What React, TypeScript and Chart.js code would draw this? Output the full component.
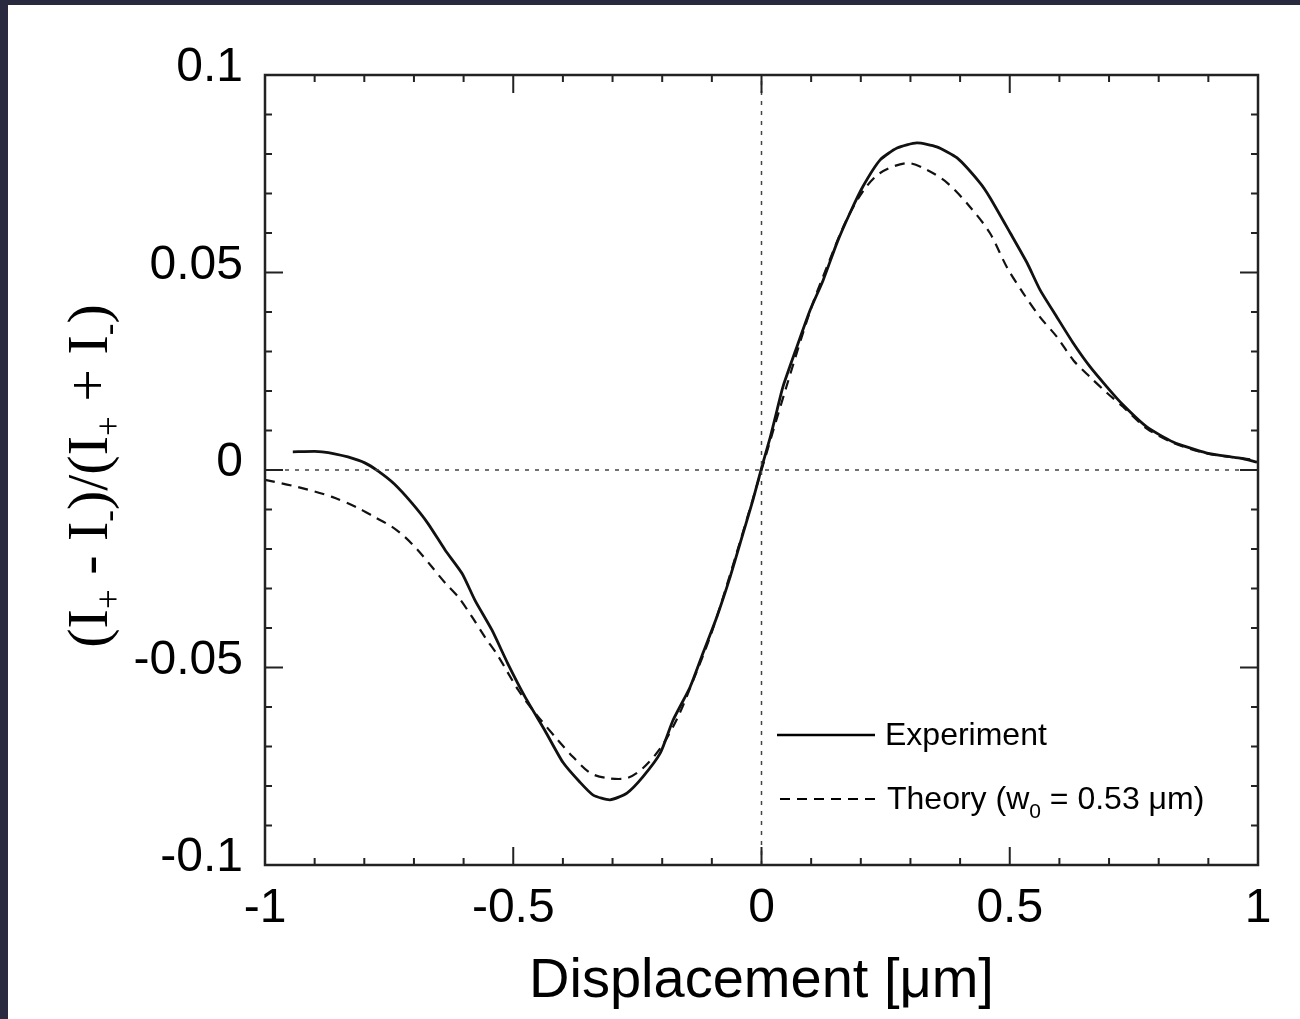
import React, { useEffect, useRef } from 'react';
import { Chart, registerables } from 'chart.js';

Chart.register(...registerables);

// ---------- data ----------
const seriesNames = ['Experiment', 'Theory (w0 = 0.53 μm)'];

const expX = [
  -0.944, -0.9, -0.885, -0.86, -0.833, -0.799, -0.772, -0.74, -0.704, -0.672,
  -0.637, -0.603, -0.577, -0.543, -0.511, -0.476, -0.436, -0.4, -0.366, -0.339,
  -0.305, -0.271, -0.239, -0.204, -0.178, -0.144, -0.118, -0.09, -0.063, -0.037,
  -0.017, 0.0, 0.017, 0.031, 0.043, 0.071, 0.098, 0.124, 0.152, 0.178,
  0.204, 0.239, 0.273, 0.313, 0.353, 0.394, 0.44, 0.46, 0.501, 0.535,
  0.561, 0.595, 0.628, 0.662, 0.696, 0.728, 0.776, 0.829, 0.897, 0.964, 0.998,
];
const expY = [
  0.0046, 0.0047, 0.0046, 0.0041, 0.0033, 0.0018, -0.0003, -0.0035, -0.0084, -0.0135,
  -0.0203, -0.0262, -0.033, -0.0405, -0.049, -0.0575, -0.066, -0.074, -0.079, -0.0823,
  -0.0835, -0.0818, -0.0777, -0.0717, -0.0633, -0.055, -0.0464, -0.0372, -0.027, -0.016,
  -0.0075, 0.0005, 0.008, 0.015, 0.021, 0.0311, 0.0405, 0.048, 0.0575, 0.065,
  0.0717, 0.0785, 0.0815, 0.0828, 0.0818, 0.079, 0.0727, 0.069, 0.06, 0.0524,
  0.0456, 0.0387, 0.0321, 0.0261, 0.021, 0.0165, 0.0109, 0.0071, 0.0043, 0.003, 0.002,
];

const theoryX = [
  -1.0, -0.934, -0.865, -0.813, -0.778, -0.744, -0.718, -0.692, -0.664, -0.637,
  -0.611, -0.583, -0.557, -0.531, -0.49, -0.456, -0.41, -0.38, -0.345, -0.311,
  -0.271, -0.239, -0.204, -0.17, -0.14, -0.1, -0.05, 0.0, 0.05, 0.1,
  0.14, 0.17, 0.204, 0.239, 0.293, 0.333, 0.374, 0.42, 0.46, 0.494,
  0.527, 0.561, 0.595, 0.628, 0.662, 0.696, 0.728, 0.776, 0.829, 0.897, 0.964, 1.0,
];
const theoryY = [
  -0.0025, -0.0043, -0.0068, -0.0096, -0.012, -0.0144, -0.017, -0.0203, -0.0245, -0.0286,
  -0.0321, -0.0372, -0.0423, -0.047, -0.0557, -0.0615, -0.0684, -0.0726, -0.0767, -0.078,
  -0.078, -0.0755, -0.0705, -0.063, -0.054, -0.041, -0.021, 0.0, 0.021, 0.041,
  0.054, 0.063, 0.0705, 0.0752, 0.0777, 0.076, 0.0727, 0.0666, 0.06, 0.0514,
  0.0448, 0.0387, 0.0337, 0.0278, 0.0235, 0.0195, 0.016, 0.0105, 0.0069, 0.0042, 0.003, 0.0025,
];

const xTickValues = [-1, -0.5, 0, 0.5, 1];
const xTickLabels = ['-1', '-0.5', '0', '0.5', '1'];
const yTickValues = [-0.1, -0.05, 0, 0.05, 0.1];
const yTickLabels = ['-0.1', '-0.05', '0', '0.05', '0.1'];

const zeroLineX = [-1, 1];
const zeroLineY = [-0.1, 0.1];

const xTitle = 'Displacement [μm]';

// ---------- styling ----------
const SANS = '"Liberation Sans", Arial, Helvetica, sans-serif';
const SERIF = '"Liberation Serif", "Times New Roman", serif';

const toPoints = (xs: number[], ys: number[]) => xs.map((x, i) => ({ x, y: ys[i] }));

const labelFor = (vals: number[], labels: string[], v: number) => {
  const i = vals.findIndex((t) => Math.abs(t - v) < 1e-9);
  return i >= 0 ? labels[i] : '';
};

const decorPlugin = {
  id: 'decor',
  afterDatasetsDraw(chart: any) {
    const { ctx, chartArea: a, scales } = chart;
    const xs = scales.x;
    const ys = scales.y;
    ctx.save();
    // ticks (inward, all four sides)
    ctx.strokeStyle = '#222';
    ctx.lineWidth = 2;
    for (let i = -10; i <= 10; i++) {
      const v = i / 10;
      const len = i % 5 === 0 ? 18 : 7;
      const px = xs.getPixelForValue(v);
      ctx.beginPath();
      ctx.moveTo(px, a.bottom);
      ctx.lineTo(px, a.bottom - len);
      ctx.moveTo(px, a.top);
      ctx.lineTo(px, a.top + len);
      ctx.stroke();
    }
    for (let i = -10; i <= 10; i++) {
      const v = i / 100;
      const len = i % 5 === 0 ? 18 : 7;
      const py = ys.getPixelForValue(v);
      ctx.beginPath();
      ctx.moveTo(a.left, py);
      ctx.lineTo(a.left + len, py);
      ctx.moveTo(a.right, py);
      ctx.lineTo(a.right - len, py);
      ctx.stroke();
    }
    // frame
    ctx.lineWidth = 2.5;
    ctx.strokeStyle = '#222';
    ctx.strokeRect(a.left, a.top, a.right - a.left, a.bottom - a.top);
    ctx.restore();
  },
  afterDraw(chart: any) {
    const { ctx, chartArea: a } = chart;
    ctx.save();
    ctx.fillStyle = '#000';
    ctx.strokeStyle = '#000';
    // legend
    const lx0 = a.left + 512;
    const lx1 = a.left + 610;
    const ly1 = a.top + 660;
    const ly2 = a.top + 724;
    ctx.lineWidth = 2.5;
    ctx.setLineDash([]);
    ctx.beginPath();
    ctx.moveTo(lx0, ly1);
    ctx.lineTo(lx1, ly1);
    ctx.stroke();
    ctx.lineWidth = 2;
    ctx.setLineDash([10, 7]);
    ctx.beginPath();
    ctx.moveTo(lx0 + 3, ly2);
    ctx.lineTo(lx1 + 3, ly2);
    ctx.stroke();
    ctx.setLineDash([]);
    ctx.textBaseline = 'alphabetic';
    ctx.textAlign = 'left';
    ctx.font = `32px ${SANS}`;
    ctx.fillText(seriesNames[0], lx1 + 10, ly1 + 10);
    // Theory (w_0 = 0.53 μm)
    let tx = lx1 + 12;
    const tb = ly2 + 10;
    const p1 = 'Theory (w';
    ctx.fillText(p1, tx, tb);
    tx += ctx.measureText(p1).width;
    ctx.font = `21px ${SANS}`;
    ctx.fillText('0', tx, tb + 9);
    tx += ctx.measureText('0').width;
    ctx.font = `32px ${SANS}`;
    ctx.fillText(' = 0.53 μm)', tx, tb);

    // y-axis title, rotated, with subscripts
    const pieces: [string, boolean][] = [
      ['(I', false], ['+', true], [' - I', false], ['-', true], [')/(I', false],
      ['+', true], [' + I', false], ['-', true], [')', false],
    ];
    const mainFont = `58px ${SERIF}`;
    const subFont = `35px ${SERIF}`;
    let total = 0;
    for (const [t, s] of pieces) {
      ctx.font = s ? subFont : mainFont;
      total += ctx.measureText(t).width;
    }
    ctx.translate(99, (a.top + a.bottom) / 2 + 6);
    ctx.rotate(-Math.PI / 2);
    let x = -total / 2;
    for (const [t, s] of pieces) {
      ctx.font = s ? subFont : mainFont;
      ctx.fillText(t, x, s ? 13 : 0);
      x += ctx.measureText(t).width;
    }
    ctx.restore();
  },
};

export default function App() {
  const ref = useRef<HTMLCanvasElement | null>(null);

  useEffect(() => {
    if (!ref.current) return;
    const chart = new Chart(ref.current, {
      type: 'line',
      data: {
        datasets: [
          {
            label: 'zeroH',
            data: toPoints(zeroLineX, [0, 0]),
            borderColor: '#444',
            borderWidth: 1.5,
            borderDash: [4, 6],
            pointRadius: 0,
          },
          {
            label: 'zeroV',
            data: toPoints([0, 0], zeroLineY),
            borderColor: '#444',
            borderWidth: 1.5,
            borderDash: [4, 6],
            pointRadius: 0,
          },
          {
            label: seriesNames[1],
            data: toPoints(theoryX, theoryY),
            borderColor: '#111',
            borderWidth: 2.2,
            borderDash: [10, 7],
            pointRadius: 0,
            tension: 0.3,
          },
          {
            label: seriesNames[0],
            data: toPoints(expX, expY),
            borderColor: '#111',
            borderWidth: 2.8,
            pointRadius: 0,
            tension: 0.2,
          },
        ],
      },
      options: {
        animation: false,
        responsive: false,
        maintainAspectRatio: false,
        layout: { padding: { top: 70, right: 42, left: 0, bottom: 0 } },
        plugins: { legend: { display: false }, tooltip: { enabled: false } },
        scales: {
          x: {
            type: 'linear',
            min: -1,
            max: 1,
            afterBuildTicks: (s: any) => {
              s.ticks = xTickValues.map((value) => ({ value }));
            },
            afterFit: (s: any) => {
              s.height = 154;
            },
            ticks: {
              color: '#000',
              font: { family: SANS, size: 48 },
              padding: 15,
              maxRotation: 0,
              autoSkip: false,
              callback: (v: any) => labelFor(xTickValues, xTickLabels, Number(v)),
            },
            grid: { display: false, drawTicks: false },
            border: { display: false },
            title: {
              display: true,
              text: xTitle,
              color: '#000',
              font: { family: SANS, size: 56 },
              padding: { top: 0, bottom: 4 },
            },
          },
          y: {
            type: 'linear',
            min: -0.1,
            max: 0.1,
            afterBuildTicks: (s: any) => {
              s.ticks = yTickValues.map((value) => ({ value }));
            },
            afterFit: (s: any) => {
              s.width = 257;
            },
            ticks: {
              color: '#000',
              font: { family: SANS, size: 48 },
              padding: 22,
              labelOffset: -7,
              autoSkip: false,
              callback: (v: any) => labelFor(yTickValues, yTickLabels, Number(v)),
            },
            grid: { display: false, drawTicks: false },
            border: { display: false },
          },
        },
      },
      plugins: [decorPlugin],
    } as any);
    return () => chart.destroy();
  }, []);

  return (
    <div style={{ position: 'fixed', inset: 0, background: '#29293f' }}>
      <canvas
        ref={ref}
        width={1292}
        height={1014}
        style={{ position: 'absolute', left: 8, top: 5, width: 1292, height: 1014, background: '#fff' }}
      />
    </div>
  );
}
